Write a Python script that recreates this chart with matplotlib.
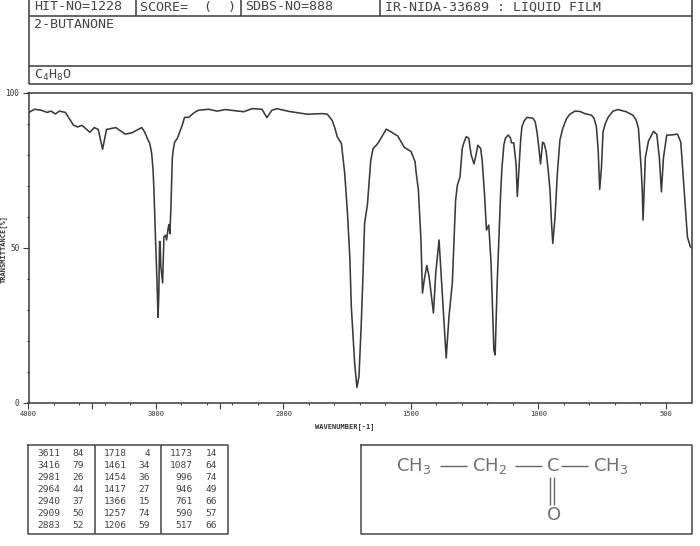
import numpy as np
import matplotlib
matplotlib.use("Agg")
import matplotlib.pyplot as plt
from matplotlib.ticker import FixedLocator, NullFormatter

plt.rcParams['font.family'] = ['DejaVu Sans Mono', 'DejaVu Sans']
plt.rcParams['mathtext.default'] = 'regular'

# spectrum
wavenumber = [4000, 3953, 3901, 3854, 3823, 3789, 3758, 3711, 3648, 3615, 3581, 3518, 3484, 3453, 3419, 3388,
              3315, 3242, 3190, 3112, 3089, 3068, 3049, 3034, 3023, 3016, 3004, 2992, 2984, 2978, 2972, 2968,
              2962, 2948, 2938, 2925, 2917, 2906, 2898, 2891, 2883, 2872, 2865, 2854, 2833, 2807, 2794, 2776,
              2742, 2716, 2690, 2664, 2586, 2521, 2456,
              2312, 2247, 2169, 2130, 2091, 2052, 1978, 1906, 1848, 1828, 1809, 1798, 1789, 1773, 1760, 1749,
              1740, 1734, 1727, 1721, 1712, 1704, 1695, 1688, 1682, 1671, 1658, 1649, 1636, 1627, 1597, 1578,
              1552, 1526, 1500, 1484, 1481, 1471,
              1461, 1455, 1448, 1438, 1429, 1412, 1403, 1390, 1379, 1362, 1351, 1338, 1325, 1318, 1308, 1299,
              1292, 1283, 1273, 1269, 1264, 1253, 1245, 1238, 1227, 1221, 1212, 1204, 1195, 1186, 1175, 1170,
              1162, 1149, 1144, 1136, 1130, 1119, 1110, 1106,
              1097, 1088, 1083, 1075, 1070, 1065, 1056, 1045, 1022, 1013, 1006, 999, 992, 984, 978, 970,
              962, 955, 949, 944, 935, 926, 916, 905, 890, 877,
              857, 838, 818, 792, 782, 773, 766, 760, 753, 747, 738, 727, 708, 688, 656, 630,
              617, 608, 603, 597, 593, 590, 581, 569, 549, 536,
              526, 518, 510, 497, 481, 455, 442, 429, 416, 405, 400]
transmittance = [93.5, 94.6, 94.3, 93.6, 94.0, 93.1, 94.0, 93.6, 89.5, 88.9, 89.4, 87.2, 88.7, 88.1, 81.7, 88.1,
                 88.7, 86.6, 87.0, 88.7, 87.3, 85.2, 83.6, 80.4, 75.0, 68.6, 53.0, 39.0, 27.6, 35.0, 52.0, 52.0,
                 44.0, 38.7, 53.5, 54.0, 52.5, 56.0, 57.5, 54.5, 63.0, 79.0, 81.5, 84.0, 85.2, 88.0, 89.5, 92.0,
                 92.0, 93.0, 93.8, 94.3, 94.6, 94.0, 94.5,
                 93.8, 94.8, 94.6, 91.9, 94.3, 94.8, 93.9, 93.0, 93.2, 93.0, 91.0, 88.4, 85.7, 83.6, 74.0, 61.0,
                 47.0, 31.0, 21.4, 12.9, 5.0, 8.6, 25.7, 41.8, 57.9, 63.8, 78.0, 81.9, 83.0, 84.0, 88.2, 87.3,
                 86.0, 82.3, 81.0, 77.7, 75.0, 68.6,
                 52.5, 35.4, 39.7, 44.3, 40.7, 29.0, 41.8, 52.5, 37.5, 14.5, 27.9, 38.6, 65.4, 70.2, 72.7, 82.0,
                 84.0, 85.8, 85.2, 82.6, 79.9, 77.0, 79.9, 83.0, 82.0, 78.2, 67.6, 55.7, 57.3, 45.0, 17.0, 15.5,
                 38.6, 66.5, 75.0, 83.0, 85.2, 86.3, 85.4, 83.8,
                 83.8, 77.0, 66.5, 78.0, 84.7, 89.0, 90.9, 92.0, 91.7, 90.6, 87.3, 82.5, 77.0, 84.0, 83.6, 81.0,
                 75.0, 68.6, 58.0, 51.4, 60.0, 74.0, 84.7, 88.4, 91.6, 93.0,
                 94.0, 93.9, 93.2, 92.7, 91.6, 89.0, 81.5, 68.8, 76.0, 87.3, 90.0, 92.0, 94.0, 94.5, 93.8, 92.7,
                 91.1, 88.4, 82.5, 75.0, 68.0, 58.9, 79.0, 84.3, 87.5, 86.5,
                 79.0, 68.0, 79.0, 86.3, 86.3, 86.6, 84.0, 68.6, 53.5, 50.4, 50.0]

x_labelled = [4000, 3000, 2000, 1500, 1000, 500]
x_long = [3500, 2500]
x_short = [3800, 3600, 3400, 3200, 2800, 2600, 2400, 2200, 1900, 1800, 1700, 1600, 1400, 1300, 1200,
           1100, 900, 800, 700, 600]
y_labelled = [0, 50, 100]
y_short = [10, 20, 30, 40, 60, 70, 80, 90]

peak_table = [
    ["3611", "3416", "2981", "2964", "2940", "2909", "2883"],
    ["84", "79", "26", "44", "37", "50", "52"],
    ["1718", "1461", "1454", "1417", "1366", "1257", "1206"],
    ["4", "34", "36", "27", "15", "74", "59"],
    ["1173", "1087", "996", "946", "761", "590", "517"],
    ["14", "64", "74", "49", "66", "57", "66"],
]

INK = "#3a3a3a"
W, H = 700, 546


def forward(x):
    x = np.asarray(x, dtype=float)
    return np.where(x >= 2000, 2000 + (x - 2000) / 2, x)


def inverse(x):
    x = np.asarray(x, dtype=float)
    return np.where(x >= 2000, 2000 + (x - 2000) * 2, x)


fig = plt.figure(figsize=(7.0, 5.46), dpi=100)

# page layer in pixels, for the boxes around the spectrum
page = fig.add_axes([0, 0, 1, 1])
page.set_xlim(0, W)
page.set_ylim(H, 0)
page.axis("off")


def line(xs, ys, lw=1.1, color=INK):
    page.plot(xs, ys, color=color, lw=lw, solid_capstyle="butt")


# header
line([28.5, 691.5], [16, 16])
line([28.5, 691.5], [66, 66])
line([28.5, 691.5], [83.5, 83.5])
line([28.5, 28.5], [0, 83.5])
line([691.5, 691.5], [0, 83.5])
for xd in [136, 241, 380]:
    line([xd, xd], [0, 16])
head = dict(fontsize=9.6, color="#444444", va="center", ha="left")
page.text(34, 7, "HIT-NO=1228", **head)
page.text(140, 7, "SCORE=  (  )", **head)
page.text(245, 7, "SDBS-NO=888", **head)
page.text(385, 7, "IR-NIDA-33689 : LIQUID FILM", **head)
page.text(34, 25, "2-BUTANONE", **head)
page.text(34, 75, "C$_4$H$_8$O", **head)

# peak table
page.plot([28, 228, 228, 28, 28], [445, 445, 534, 534, 445], color="#555555", lw=1.2)
line([95, 95], [445, 534], color="#444444")
line([161, 161], [445, 534], color="#444444")
col_right = [60, 84, 127, 150, 193, 217]
for xr, col in zip(col_right, peak_table):
    for i, val in enumerate(col):
        page.text(xr, 454 + i * 12, val, fontsize=6.8, color="#444444", ha="right", va="center")

# structure
page.plot([361, 691.5, 691.5, 361, 361], [445, 445, 534, 534, 445], color="#555555", lw=1.2)
chem = dict(fontsize=13, color="#707070", va="center", ha="left", family="DejaVu Sans")
page.text(396, 466, "CH$_3$", **chem)
page.text(472, 466, "CH$_2$", **chem)
page.text(547, 466, "C", **chem)
page.text(593, 466, "CH$_3$", **chem)
page.text(547, 515.5, "O", **chem)
line([440, 467], [466, 466], color="#666666", lw=1.0)
line([515, 542], [466, 466], color="#666666", lw=1.0)
line([561, 588], [466, 466], color="#666666", lw=1.0)
line([549.5, 549.5], [477, 505], color="#666666", lw=1.0)
line([553.5, 553.5], [477, 505], color="#666666", lw=1.0)

# spectrum
ax = fig.add_axes([28.5 / W, 1 - 403 / H, 663 / W, 310.5 / H])
ax.patch.set_alpha(0)
ax.set_xscale("function", functions=(forward, inverse))
ax.set_xlim(4000, 400)
ax.set_ylim(0, 100)
ax.plot(wavenumber, transmittance, color="#3a3a3a", lw=1.15)

for s in ax.spines.values():
    s.set_color(INK)
    s.set_linewidth(1.1)

ax.xaxis.set_major_locator(FixedLocator(x_labelled + x_long))
ax.set_xticklabels(["4000", "3000", "2000", "1500", "1000", "500", "", ""])
ax.xaxis.set_minor_locator(FixedLocator(x_short))
ax.xaxis.set_minor_formatter(NullFormatter())
ax.set_yticks(y_labelled)
ax.set_yticks(y_short, minor=True)
ax.tick_params(axis="x", which="major", length=4, width=0.8, color=INK, labelsize=5, labelcolor="#333333", pad=2)
ax.tick_params(axis="x", which="minor", length=1.6, width=0.8, color=INK)
ax.tick_params(axis="y", which="major", length=4.5, width=0.8, color=INK, labelsize=5.5, labelcolor="#333333", pad=2)
ax.tick_params(axis="y", which="minor", length=1.2, width=0.8, color=INK)

ax.set_xlabel("WAVENUMBER[-1]", fontsize=5, fontweight="bold", color="#333333")
ax.xaxis.set_label_coords((345 - 28.5) / 663, -(423 - 403) / 310.5, transform=ax.transAxes)
ax.set_ylabel("TRANSMITTANCE[%]", fontsize=5, fontweight="bold", color="#333333")
ax.yaxis.set_label_coords(-(28.5 - 6.5) / 663, (403 - 249) / 310.5, transform=ax.transAxes)

fig.savefig("out.png", dpi=100)
